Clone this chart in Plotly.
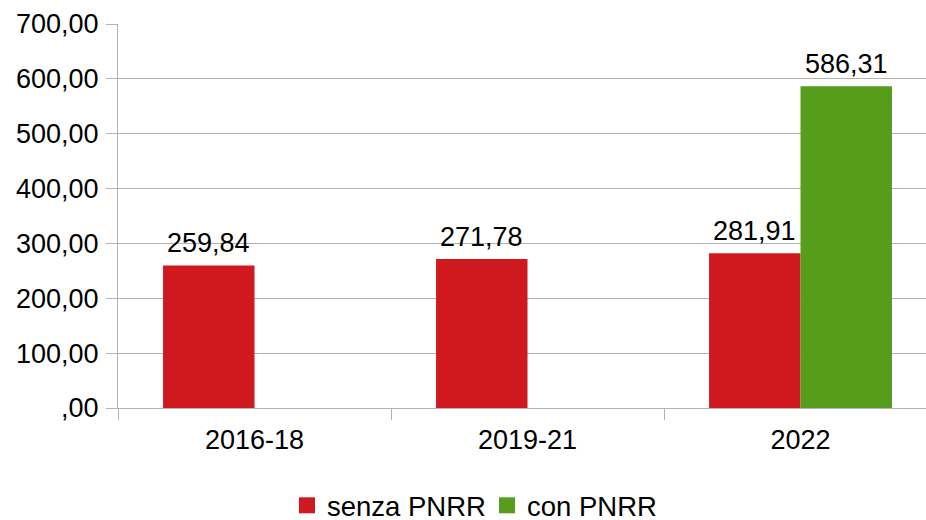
import plotly.graph_objects as go

categories = ["2016-18", "2019-21", "2022"]
senza_pnrr = [259.84, 271.78, 281.91]
con_pnrr = [None, None, 586.31]
series_names = ["senza PNRR", "con PNRR"]
colors = ["#d0191f", "#579d1c"]
y_ticks = [0, 100, 200, 300, 400, 500, 600, 700]
y_tick_labels = [",00", "100,00", "200,00", "300,00", "400,00", "500,00", "600,00", "700,00"]

FONT = "Liberation Sans"
FS = 27
GRID = "#b3b3b3"
BARGAP = 0.33
W, H = 926, 520


def fmt(v):
    return f"{v:.2f}".replace(".", ",")


fig = go.Figure()
series = [senza_pnrr, con_pnrr]
for name, vals, col in zip(series_names, series, colors):
    fig.add_trace(go.Bar(x=categories, y=vals, name=name, marker=dict(color=col, line=dict(width=0)),
                         showlegend=False, hoverinfo="skip"))
# legend entries (one legend box per entry so each can be placed)
legend_ids = ["legend", "legend2"]
for name, col, lg in zip(series_names, colors, legend_ids):
    fig.add_trace(go.Scatter(x=[None], y=[None], mode="markers", name=name, legend=lg,
                             marker=dict(symbol="square", size=16, color=col)))

# value labels
bw = (1 - BARGAP) / len(series)
annotations = []
for si, vals in enumerate(series):
    off = -(1 - BARGAP) / 2 + bw * (si + 0.5)
    for ci, v in enumerate(vals):
        if v is None:
            continue
        annotations.append(dict(x=ci + off, y=v, xref="x", yref="y", text=fmt(v), showarrow=False,
                                yanchor="bottom", yshift=5, font=dict(family=FONT, size=FS, color="black")))

legend_style = dict(orientation="h", xref="container", yref="container", xanchor="left",
                    y=0.028, yanchor="middle", font=dict(family=FONT, size=27.5, color="black"),
                    itemwidth=30, tracegroupgap=0, bgcolor="rgba(0,0,0,0)")

fig.update_layout(
    width=W, height=H,
    margin=dict(l=118, r=0, t=24, b=112, autoexpand=False),
    paper_bgcolor="white", plot_bgcolor="white",
    barmode="group", bargap=BARGAP, bargroupgap=0,
    font=dict(family=FONT, size=FS, color="black"),
    annotations=annotations,
    legend=dict(x=287 / W, **legend_style),
    legend2=dict(x=487 / W, **legend_style),
    showlegend=True,
)
fig.update_xaxes(type="category", range=[-0.5, -0.5 + 808 / 273], showgrid=False, automargin=False,
                 showline=True, linecolor=GRID, linewidth=1,
                 ticks="outside", tickson="boundaries", ticklen=11, tickcolor=GRID, tickwidth=1,
                 ticklabelstandoff=8, tickfont=dict(family=FONT, size=FS, color="black"), fixedrange=True)
fig.update_yaxes(range=[0, 700], tickvals=y_ticks, ticktext=y_tick_labels, automargin=False,
                 showgrid=True, gridcolor=GRID, gridwidth=1, zeroline=False,
                 showline=True, linecolor=GRID, linewidth=1,
                 ticks="outside", ticklen=11, tickcolor=GRID, tickwidth=1,
                 ticklabelstandoff=2, tickfont=dict(family=FONT, size=FS, color="black"), fixedrange=True)

fig.write_html("out.html", config={"displayModeBar": False},
               post_script="document.body.style.margin='0';document.body.style.padding='0';")
